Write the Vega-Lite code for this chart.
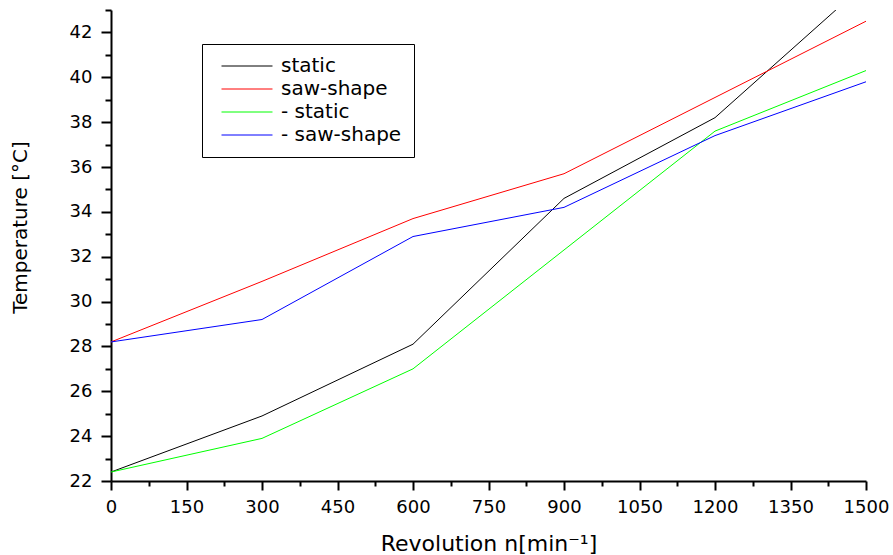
{
  "$schema": "https://vega.github.io/schema/vega-lite/v6.json",
  "width": 755,
  "height": 471,
  "autosize": "none",
  "padding": {"left": 111, "top": 10, "right": 27, "bottom": 74},
  "config": {"view": {"stroke": null}, "font": "DejaVu Sans"},
  "data": {
    "values": [
      {"n": 0, "T": 22.4, "series": "static"},
      {"n": 300, "T": 24.9, "series": "static"},
      {"n": 600, "T": 28.1, "series": "static"},
      {"n": 900, "T": 34.6, "series": "static"},
      {"n": 1200, "T": 38.2, "series": "static"},
      {"n": 1500, "T": 44.2, "series": "static"},
      {"n": 0, "T": 28.2, "series": "saw-shape"},
      {"n": 300, "T": 30.9, "series": "saw-shape"},
      {"n": 600, "T": 33.7, "series": "saw-shape"},
      {"n": 900, "T": 35.7, "series": "saw-shape"},
      {"n": 1200, "T": 39.1, "series": "saw-shape"},
      {"n": 1500, "T": 42.5, "series": "saw-shape"},
      {"n": 0, "T": 22.4, "series": "- static"},
      {"n": 300, "T": 23.9, "series": "- static"},
      {"n": 600, "T": 27.0, "series": "- static"},
      {"n": 900, "T": 32.3, "series": "- static"},
      {"n": 1200, "T": 37.6, "series": "- static"},
      {"n": 1500, "T": 40.3, "series": "- static"},
      {"n": 0, "T": 28.2, "series": "- saw-shape"},
      {"n": 300, "T": 29.2, "series": "- saw-shape"},
      {"n": 600, "T": 32.9, "series": "- saw-shape"},
      {"n": 900, "T": 34.2, "series": "- saw-shape"},
      {"n": 1200, "T": 37.4, "series": "- saw-shape"},
      {"n": 1500, "T": 39.8, "series": "- saw-shape"}
    ]
  },
  "layer": [
    {
      "mark": {"type": "line", "clip": true, "strokeWidth": 1},
      "encoding": {
        "x": {
          "field": "n", "type": "quantitative",
          "scale": {"domain": [0, 1500], "nice": false, "zero": false},
          "axis": {
            "orient": "bottom",
            "values": [0, 150, 300, 450, 600, 750, 900, 1050, 1200, 1350, 1500],
            "format": "d",
            "grid": false, "domainColor": "black", "domainWidth": 2,
            "tickColor": "black", "tickWidth": 2, "tickSize": 9,
            "labelFontSize": 18, "labelColor": "black", "labelPadding": 8,
            "labelFlush": false, "labelOverlap": false,
            "title": "Revolution n[min⁻¹]",
            "titleFontSize": 22, "titleFontWeight": "normal", "titleColor": "black",
            "titleBaseline": "alphabetic", "titleY": 69, "titleX": 377.5, "titleAlign": "center"
          }
        },
        "y": {
          "field": "T", "type": "quantitative",
          "scale": {"domain": [22, 43], "nice": false, "zero": false},
          "axis": {
            "orient": "left",
            "values": [22, 24, 26, 28, 30, 32, 34, 36, 38, 40, 42],
            "format": "d",
            "grid": false, "domainColor": "black", "domainWidth": 2,
            "tickColor": "black", "tickWidth": 2, "tickSize": 10,
            "labelFontSize": 18, "labelColor": "black", "labelPadding": 9,
            "labelFlush": false, "labelOverlap": false,
            "title": "Temperature [°C]",
            "titleFontSize": 20, "titleFontWeight": "normal", "titleColor": "black",
            "titleAngle": -90, "titleAlign": "center", "titleBaseline": "alphabetic",
            "titleX": -85, "titleY": 217
          }
        },
        "color": {
          "field": "series", "type": "nominal",
          "scale": {
            "domain": ["static", "saw-shape", "- static", "- saw-shape"],
            "range": ["#000000", "#ff0000", "#00ff00", "#0000ff"]
          },
          "legend": {
            "orient": "none", "legendX": 91, "legendY": 34,
            "title": null, "strokeColor": "black",
            "padding": 12, "symbolType": "M-5,0H5", "symbolSize": 104,
            "symbolStrokeWidth": 1, "symbolOffset": 23,
            "labelFontSize": 20, "labelColor": "black",
            "labelOffset": 24, "rowPadding": 3, "fillColor": "white"
          }
        }
      }
    },
    {
      "mark": {"type": "line", "strokeOpacity": 0},
      "encoding": {
        "x": {
          "field": "n", "type": "quantitative",
          "axis": {
            "orient": "bottom",
            "values": [75, 225, 375, 525, 675, 825, 975, 1125, 1275, 1425],
            "grid": false, "domain": false, "labels": false, "title": null,
            "tickColor": "black", "tickWidth": 2, "tickSize": 5
          }
        },
        "y": {
          "field": "T", "type": "quantitative",
          "axis": {
            "orient": "left",
            "values": [23, 25, 27, 29, 31, 33, 35, 37, 39, 41, 43],
            "grid": false, "domain": false, "labels": false, "title": null,
            "tickColor": "black", "tickWidth": 2, "tickSize": 6
          }
        },
        "detail": {"field": "series", "type": "nominal"}
      }
    }
  ],
  "resolve": {"axis": {"x": "independent", "y": "independent"}}
}
